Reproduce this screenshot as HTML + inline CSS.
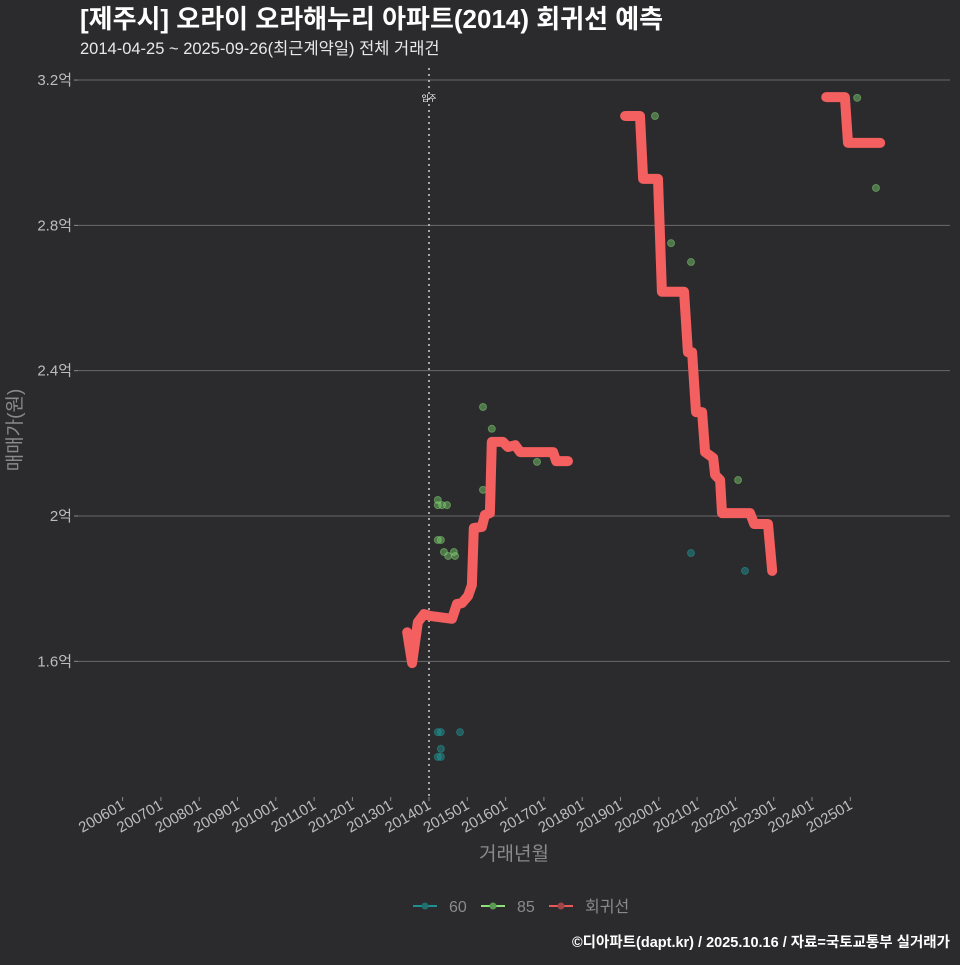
<!DOCTYPE html>
<html><head><meta charset="utf-8">
<style>
body{margin:0;background:#2b2b2d;}
svg text{font-family:"Liberation Sans","Noto Sans CJK KR",sans-serif;}
</style></head>
<body>
<svg id="chart" width="960" height="960" viewBox="0 0 960 960" xmlns="http://www.w3.org/2000/svg">
<rect width="960" height="960" fill="#2b2b2d"/>
<text x="80" y="28" font-size="26" font-weight="bold" fill="#ffffff">[제주시] 오라이 오라해누리 아파트(2014) 회귀선 예측</text>
<text x="80" y="54" font-size="16.5" fill="#e8e8e8">2014-04-25 ~ 2025-09-26(최근계약일) 전체 거래건</text>
<g id="grid"></g>
<g id="yaxis"></g>
<g id="xaxis"></g>
<g id="marks"></g>
<text x="21" y="430" font-size="19" fill="#8a8a8a" text-anchor="middle" transform="rotate(-90 21 430)">매매가(원)</text>
<text x="514" y="860" font-size="19" fill="#8a8a8a" text-anchor="middle">거래년월</text>
<g>
 <g><line x1="413" y1="906" x2="437" y2="906" stroke="#1f8f8f" stroke-width="2"/><circle cx="425" cy="906" r="3.5" fill="#1f6f6f"/><text x="449" y="912" font-size="16" fill="#8a8a8a">60</text></g>
 <g><line x1="481" y1="906" x2="505" y2="906" stroke="#8fe07a" stroke-width="2"/><circle cx="493" cy="906" r="3.5" fill="#5a9a50"/><text x="517" y="912" font-size="16" fill="#8a8a8a">85</text></g>
 <g><line x1="549" y1="906" x2="573" y2="906" stroke="#e85a5a" stroke-width="2"/><circle cx="561" cy="906" r="3.5" fill="#a04545"/><text x="585" y="912" font-size="16" fill="#8a8a8a">회귀선</text></g>
</g>
<text x="950" y="947" font-size="14.5" font-weight="bold" fill="#ffffff" text-anchor="end">©디아파트(dapt.kr) / 2025.10.16 / 자료=국토교통부 실거래가</text>
</svg>
<script>
const yTicks=[1.6,2.0,2.4,2.8,3.2];
const yTickLabels=["1.6억","2억","2.4억","2.8억","3.2억"];
const xTicks=[2006,2007,2008,2009,2010,2011,2012,2013,2014,2015,2016,2017,2018,2019,2020,2021,2022,2023,2024,2025];
const xTickLabels=["200601","200701","200801","200901","201001","201101","201201","201301","201401","201501","201601","201701","201801","201901","202001","202101","202201","202301","202401","202501"];
const moveInYear=2014.0;
const reg1T=[2013.43,2013.56,2013.71,2013.87,2014.03,2014.60,2014.73,2014.86,2015.02,2015.12,2015.17,2015.38,2015.46,2015.59,2015.64,2015.93,2016.06,2016.25,2016.38,2017.24,2017.32,2017.63];
const reg1V=[1.68,1.595,1.708,1.73,1.725,1.717,1.758,1.76,1.78,1.81,1.967,1.97,2.003,2.008,2.204,2.204,2.19,2.195,2.176,2.176,2.151,2.151];
const reg2T=[2019.12,2019.51,2019.59,2019.98,2020.08,2020.66,2020.76,2020.87,2020.97,2021.13,2021.21,2021.42,2021.47,2021.60,2021.65,2022.38,2022.49,2022.85,2022.96];
const reg2V=[3.101,3.101,2.928,2.928,2.617,2.617,2.451,2.451,2.286,2.286,2.176,2.16,2.113,2.099,2.008,2.008,1.978,1.978,1.849];
const reg3T=[2024.37,2024.86,2024.94,2025.78];
const reg3V=[3.153,3.153,3.027,3.027];
const s85T=[2014.23,2014.23,2014.34,2014.47,2014.23,2014.31,2014.39,2014.50,2014.65,2014.68,2015.41,2015.41,2015.64,2019.90,2020.32,2020.84,2025.67,2025.18,2022.07,2016.82];
const s85V=[2.044,2.03,2.03,2.03,1.934,1.934,1.901,1.89,1.901,1.89,2.072,2.30,2.24,3.101,2.751,2.699,2.903,3.151,2.099,2.149];
const s60T=[2014.23,2014.31,2014.81,2014.31,2014.23,2014.31,2020.84,2022.25];
const s60V=[1.405,1.405,1.405,1.359,1.337,1.337,1.898,1.849];

const NS="http://www.w3.org/2000/svg";
function X(t){return 429+(t-2014)*38.3;}
function Y(v){return 516-(v-2)*363.3;}
function mk(tag,attrs,parent){const e=document.createElementNS(NS,tag);for(const k in attrs)e.setAttribute(k,attrs[k]);parent.appendChild(e);return e;}
const grid=document.getElementById('grid'),ya=document.getElementById('yaxis'),xa=document.getElementById('xaxis'),marks=document.getElementById('marks');
yTicks.forEach((v,i)=>{
 const l=mk('line',{x1:78,x2:950,y1:Y(v),y2:Y(v),stroke:'#6a6a6a','stroke-width':1},grid);
 
 
 const tk=mk('line',{x1:74,x2:78,y1:Y(v),y2:Y(v),stroke:'#8a8a8a'},ya);
 
 
 const t=mk('text',{x:72,y:Y(v)+5,'font-size':15,fill:'#bdbdbd','text-anchor':'end'},ya);
 t.textContent=yTickLabels[i];
 
 
});
xTicks.forEach((yr,i)=>{
 const x=X(yr);
 const tk=mk('line',{x1:x,x2:x,y1:797,y2:801,stroke:'#8a8a8a'},xa);
 
 
 const t=mk('text',{x:x+3,y:808,'font-size':15,fill:'#bdbdbd','text-anchor':'end',transform:`rotate(-30 ${x+3} 808)`},xa);
 t.textContent=xTickLabels[i];
 
 
});
const mv=mk('line',{x1:X(moveInYear),x2:X(moveInYear),y1:68,y2:800,stroke:'#d0d0d0','stroke-width':1.5,'stroke-dasharray':'2,4'},marks);


const mt=mk('text',{x:X(moveInYear),y:101,'font-size':8,fill:'#ffffff','text-anchor':'middle'},marks);
mt.textContent='입주';


[[s85T,s85V,'#7fd070'],[s60T,s60V,'#1f9a9a']].forEach(([T,V,c],k)=>{
 T.forEach((t,i)=>{
  const p=mk('circle',{cx:X(t),cy:Y(V[i]),r:3.5,fill:c,'fill-opacity':0.45,stroke:c,'stroke-opacity':0.5},marks);
  
  
 });
});
[[reg1T,reg1V],[reg2T,reg2V],[reg3T,reg3V]].forEach(([T,V])=>{
 const d=T.map((t,i)=>(i?'L':'M')+X(t).toFixed(1)+','+Y(V[i]).toFixed(1)).join(' ');
 const p=mk('path',{d:d,fill:'none',stroke:'#f45f5f','stroke-width':10,'stroke-linejoin':'round','stroke-linecap':'round'},marks);
 
 
});
</script>
</body></html>
